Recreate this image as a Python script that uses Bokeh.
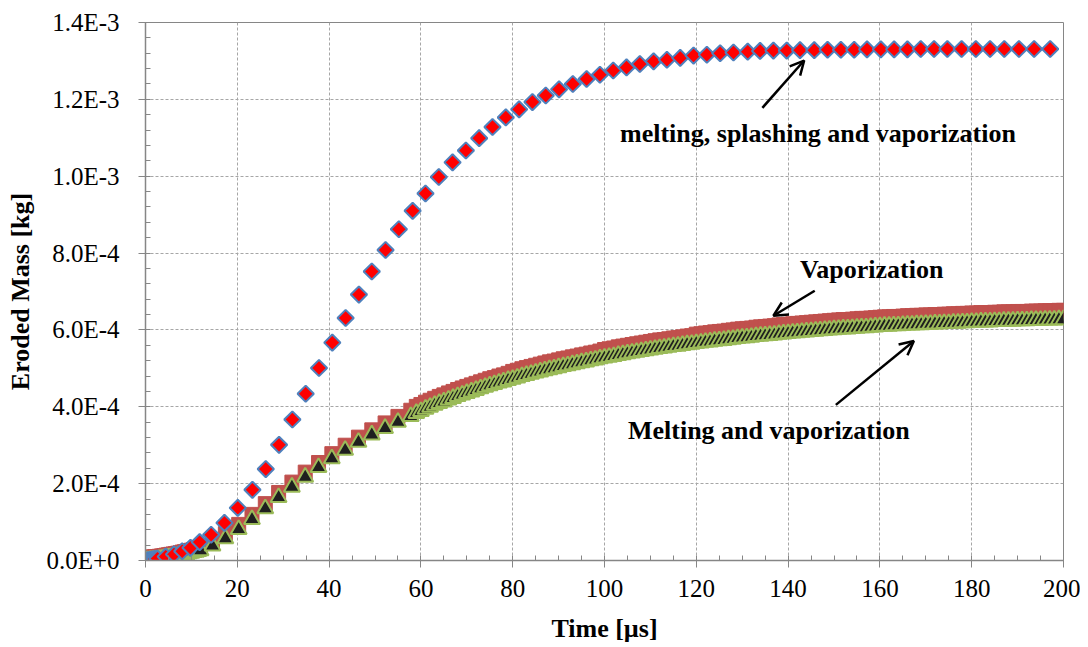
import numpy as np
from bokeh.plotting import figure
from bokeh.models import (ColumnDataSource, FixedTicker, CustomJSTickFormatter,
                          Range1d, Label, Arrow, OpenHead)
from bokeh.embed import file_html
from bokeh.resources import INLINE

# ---------------- data (mass values in units of 1E-4 kg) ----------------
# Time points shared by "Vaporization" (squares) and "Melting and vaporization" (triangles)
t_mv = [0, 0.5, 1, 1.5, 2, 2.5, 3, 3.5, 4, 4.5, 5, 5.5, 6, 6.5, 7, 7.5, 8, 8.5, 9, 9.5,
        10, 10.5, 11, 11.5, 12, 14.6, 17.4, 20.3, 23.2, 26.1, 29.0, 31.9, 34.8, 37.7,
        40.6, 43.5, 46.4, 49.3, 52.2, 55.0, 57.8,
        59, 60, 61, 62, 63, 64, 65, 66, 67, 68, 69, 70,
        71, 72, 73, 74, 75, 76, 77, 78, 79, 80,
        81, 82, 83, 84, 85, 86, 87, 88, 89, 90,
        91, 92, 93, 94, 95, 96, 97, 98, 99, 100,
        101, 102, 103, 104, 105, 106, 107, 108, 109, 110,
        111, 112, 113, 114, 115, 116, 117, 118, 119, 120,
        121, 122, 123, 124, 125, 126, 127, 128, 129, 130,
        131, 132, 133, 134, 135, 136, 137, 138, 139, 140,
        141, 142, 143, 144, 145, 146, 147, 148, 149, 150,
        151, 152, 153, 154, 155, 156, 157, 158, 159, 160,
        161, 162, 163, 164, 165, 166, 167, 168, 169, 170,
        171, 172, 173, 174, 175, 176, 177, 178, 179, 180,
        181, 182, 183, 184, 185, 186, 187, 188, 189, 190,
        191, 192, 193, 194, 195, 196, 197, 198, 199, 200]

m_melt_vap_e4 = [0.00, 0.00, 0.01, 0.01, 0.02, 0.02, 0.03, 0.04, 0.05, 0.06, 0.07, 0.08, 0.09, 0.10,
                 0.11, 0.12, 0.14, 0.15, 0.16, 0.18, 0.19, 0.21, 0.22, 0.24, 0.26,
                 0.38, 0.57, 0.81, 1.07, 1.35, 1.64, 1.91, 2.17, 2.42, 2.65, 2.87, 3.08, 3.27,
                 3.44, 3.60, 3.75,
                 3.83, 3.88, 3.94, 3.99, 4.04, 4.09, 4.13, 4.18, 4.22, 4.27, 4.31, 4.35,
                 4.39, 4.43, 4.47, 4.51, 4.55, 4.58, 4.62, 4.65, 4.69, 4.72,
                 4.75, 4.79, 4.82, 4.85, 4.88, 4.91, 4.94, 4.97, 4.99, 5.02,
                 5.05, 5.07, 5.10, 5.12, 5.15, 5.17, 5.20, 5.22, 5.25, 5.27,
                 5.29, 5.31, 5.34, 5.36, 5.38, 5.40, 5.42, 5.44, 5.46, 5.48,
                 5.50, 5.52, 5.53, 5.55, 5.57, 5.58, 5.60, 5.62, 5.63, 5.65,
                 5.66, 5.68, 5.69, 5.71, 5.72, 5.73, 5.75, 5.76, 5.78, 5.79,
                 5.80, 5.81, 5.83, 5.84, 5.85, 5.86, 5.87, 5.89, 5.90, 5.91,
                 5.92, 5.93, 5.94, 5.95, 5.96, 5.97, 5.98, 5.99, 6.00, 6.01,
                 6.02, 6.03, 6.03, 6.04, 6.05, 6.06, 6.06, 6.07, 6.08, 6.09,
                 6.10, 6.10, 6.11, 6.11, 6.12, 6.13, 6.13, 6.14, 6.14, 6.15,
                 6.15, 6.16, 6.16, 6.17, 6.17, 6.18, 6.18, 6.19, 6.19, 6.20,
                 6.20, 6.21, 6.21, 6.21, 6.22, 6.22, 6.23, 6.23, 6.23, 6.24,
                 6.24, 6.24, 6.25, 6.25, 6.25, 6.26, 6.26, 6.26, 6.27, 6.27]

m_vap_e4 = [0.08, 0.08, 0.09, 0.09, 0.10, 0.10, 0.11, 0.12, 0.13, 0.14, 0.15, 0.16, 0.17, 0.18,
            0.19, 0.20, 0.22, 0.23, 0.24, 0.26, 0.27, 0.29, 0.30, 0.32, 0.34,
            0.50, 0.70, 0.94, 1.20, 1.48, 1.77, 2.04, 2.30, 2.55, 2.78, 3.00, 3.21, 3.40,
            3.58, 3.75, 3.91,
            4.01, 4.06, 4.12, 4.17, 4.22, 4.27, 4.31, 4.36, 4.40, 4.45, 4.49, 4.53,
            4.57, 4.61, 4.65, 4.69, 4.73, 4.76, 4.80, 4.83, 4.87, 4.92,
            4.95, 4.99, 5.02, 5.05, 5.08, 5.11, 5.14, 5.17, 5.19, 5.22,
            5.25, 5.27, 5.30, 5.32, 5.35, 5.37, 5.40, 5.42, 5.45, 5.49,
            5.51, 5.53, 5.56, 5.58, 5.60, 5.62, 5.64, 5.66, 5.68, 5.70,
            5.72, 5.74, 5.75, 5.77, 5.79, 5.80, 5.82, 5.84, 5.85, 5.89,
            5.90, 5.92, 5.93, 5.95, 5.96, 5.97, 5.99, 6.00, 6.02, 6.03,
            6.04, 6.05, 6.07, 6.08, 6.09, 6.10, 6.11, 6.13, 6.14, 6.15,
            6.16, 6.17, 6.18, 6.19, 6.20, 6.21, 6.22, 6.23, 6.24, 6.25,
            6.26, 6.27, 6.27, 6.28, 6.29, 6.30, 6.30, 6.31, 6.32, 6.33,
            6.34, 6.34, 6.35, 6.35, 6.36, 6.37, 6.37, 6.38, 6.38, 6.39,
            6.39, 6.40, 6.40, 6.41, 6.41, 6.42, 6.42, 6.43, 6.43, 6.44,
            6.44, 6.45, 6.45, 6.45, 6.46, 6.46, 6.47, 6.47, 6.47, 6.48,
            6.48, 6.48, 6.49, 6.49, 6.49, 6.50, 6.50, 6.50, 6.51, 6.51]

# "melting, splashing and vaporization" (diamonds)
t_msv = [0.0, 0.5, 1.0, 1.5, 2.0, 2.6, 4.4, 6.2, 8.0, 9.8, 11.8, 14.3, 17.2, 20.1, 23.3,
         26.2, 29.1, 32.0, 34.9, 37.8, 40.7, 43.6, 46.5, 49.3, 52.3, 55.2, 58.2, 61.0,
         63.9, 66.9, 69.8, 72.7, 75.6, 78.5, 81.4, 84.3, 87.2, 90.1, 93.1, 96.1, 99.0,
         101.9, 104.8, 107.7, 110.7, 113.6, 116.5, 119.4, 122.3, 125.2, 128.1, 131.2,
         133.9, 136.8, 139.7, 142.6, 145.7, 148.6, 151.5, 154.4, 157.2, 160.2, 163.1,
         166.0, 168.9, 171.8, 174.7, 177.8, 180.9, 184.0, 187.1, 190.3, 193.6, 197.1]
m_msv_e4 = [0.00, 0.01, 0.02, 0.03, 0.04, 0.05, 0.10, 0.16, 0.24, 0.33, 0.48, 0.67, 0.98, 1.37,
            1.84, 2.38, 3.01, 3.67, 4.34, 5.01, 5.67, 6.31, 6.92, 7.52, 8.08, 8.62, 9.10,
            9.55, 9.98, 10.36, 10.67, 10.99, 11.28, 11.53, 11.74, 11.93, 12.10, 12.26,
            12.40, 12.53, 12.64, 12.75, 12.83, 12.92, 12.99, 13.03, 13.08, 13.14, 13.16,
            13.20, 13.22, 13.24, 13.26, 13.27, 13.27, 13.28, 13.28, 13.29, 13.29, 13.29,
            13.30, 13.30, 13.30, 13.30, 13.31, 13.31, 13.31, 13.31, 13.31, 13.31, 13.31,
            13.31, 13.31, 13.31]

x_ticks = [0, 20, 40, 60, 80, 100, 120, 140, 160, 180, 200]
y_ticks = [0.0, 2e-4, 4e-4, 6e-4, 8e-4, 1.0e-3, 1.2e-3, 1.4e-3]

# ---------------- figure ----------------
FONT = "Liberation Serif"
AX = "#868686"

p = figure(width=1080, height=645, output_backend="svg", toolbar_location=None,
           x_range=Range1d(0, 200), y_range=Range1d(0, 1.4e-3),
           min_border_left=145, min_border_right=17, min_border_top=22,
           min_border_bottom=83, background_fill_color="white",
           border_fill_color="white", outline_line_color=AX, outline_line_width=1)

src_vap = ColumnDataSource(dict(t=t_mv, m=np.array(m_vap_e4) * 1e-4))
src_mv = ColumnDataSource(dict(t=t_mv, m=np.array(m_melt_vap_e4) * 1e-4))
src_msv = ColumnDataSource(dict(t=t_msv, m=np.array(m_msv_e4) * 1e-4))

p.scatter("t", "m", source=src_vap, marker="square", size=14,
          fill_color="#c0504d", line_color="#c0504d", line_width=1)
p.scatter("t", "m", source=src_mv, marker="triangle", size=16,
          fill_color="#1f1f1f", line_color="#9bbb59", line_width=2)
p.scatter("t", "m", source=src_msv, marker="square", size=11.5, angle=np.pi / 4,
          fill_color="#ff0000", line_color="#4f81bd", line_width=2)

# axes
p.xaxis.ticker = FixedTicker(ticks=x_ticks, minor_ticks=list(range(0, 201, 5)))
p.yaxis.ticker = FixedTicker(ticks=y_ticks,
                             minor_ticks=[i * 4e-5 for i in range(0, 36)])
p.yaxis.formatter = CustomJSTickFormatter(
    code="return tick.toExponential(1).replace('e', 'E');")

for ax in (p.xaxis, p.yaxis):
    ax.axis_line_color = AX
    ax.axis_line_width = 1.5
    ax.major_tick_line_color = AX
    ax.minor_tick_line_color = AX
    ax.major_tick_in = 4
    ax.major_tick_out = 7
    ax.minor_tick_in = 5
    ax.minor_tick_out = 0
    ax.major_label_text_font = FONT
    ax.major_label_text_font_size = "25px"
    ax.major_label_text_color = "black"
    ax.axis_label_text_font = FONT
    ax.axis_label_text_font_size = "26px"
    ax.axis_label_text_font_style = "bold"
    ax.axis_label_text_color = "black"

p.xaxis.axis_label = "Time [µs]"
p.yaxis.axis_label = "Eroded Mass [kg]"
p.xaxis.major_label_standoff = 12
p.xaxis.axis_label_standoff = 14
p.yaxis.major_label_standoff = 19
p.yaxis.axis_label_standoff = 8

p.xgrid.grid_line_color = "#a6a6a6"
p.ygrid.grid_line_color = "#a6a6a6"
p.xgrid.grid_line_dash = "3 2"
p.ygrid.grid_line_dash = "3 2"
p.xgrid.grid_line_width = 1
p.ygrid.grid_line_width = 1

# annotations
def add_label(x, y, text):
    p.add_layout(Label(x=x, y=y, text=text, text_font=FONT, text_font_size="26px",
                       text_font_style="bold", text_color="black",
                       text_align="center", text_baseline="middle"))

add_label(146.5, 1.112e-3, "melting, splashing and vaporization")
add_label(158.2, 7.57e-4, "Vaporization")
add_label(136.5, 3.37e-4, "Melting and  vaporization")

def add_arrow(x0, y0, x1, y1):
    p.add_layout(Arrow(end=OpenHead(size=14, line_width=2.5, line_color="black"),
                       x_start=x0, y_start=y0, x_end=x1, y_end=y1,
                       line_width=2.5, line_color="black"))

add_arrow(134.4, 1.178e-3, 143.5, 1.301e-3)
add_arrow(145.8, 7.02e-4, 136.8, 6.37e-4)
add_arrow(150.4, 4.05e-4, 167.4, 5.71e-4)

open("out.html", "w").write(file_html(p, INLINE))
